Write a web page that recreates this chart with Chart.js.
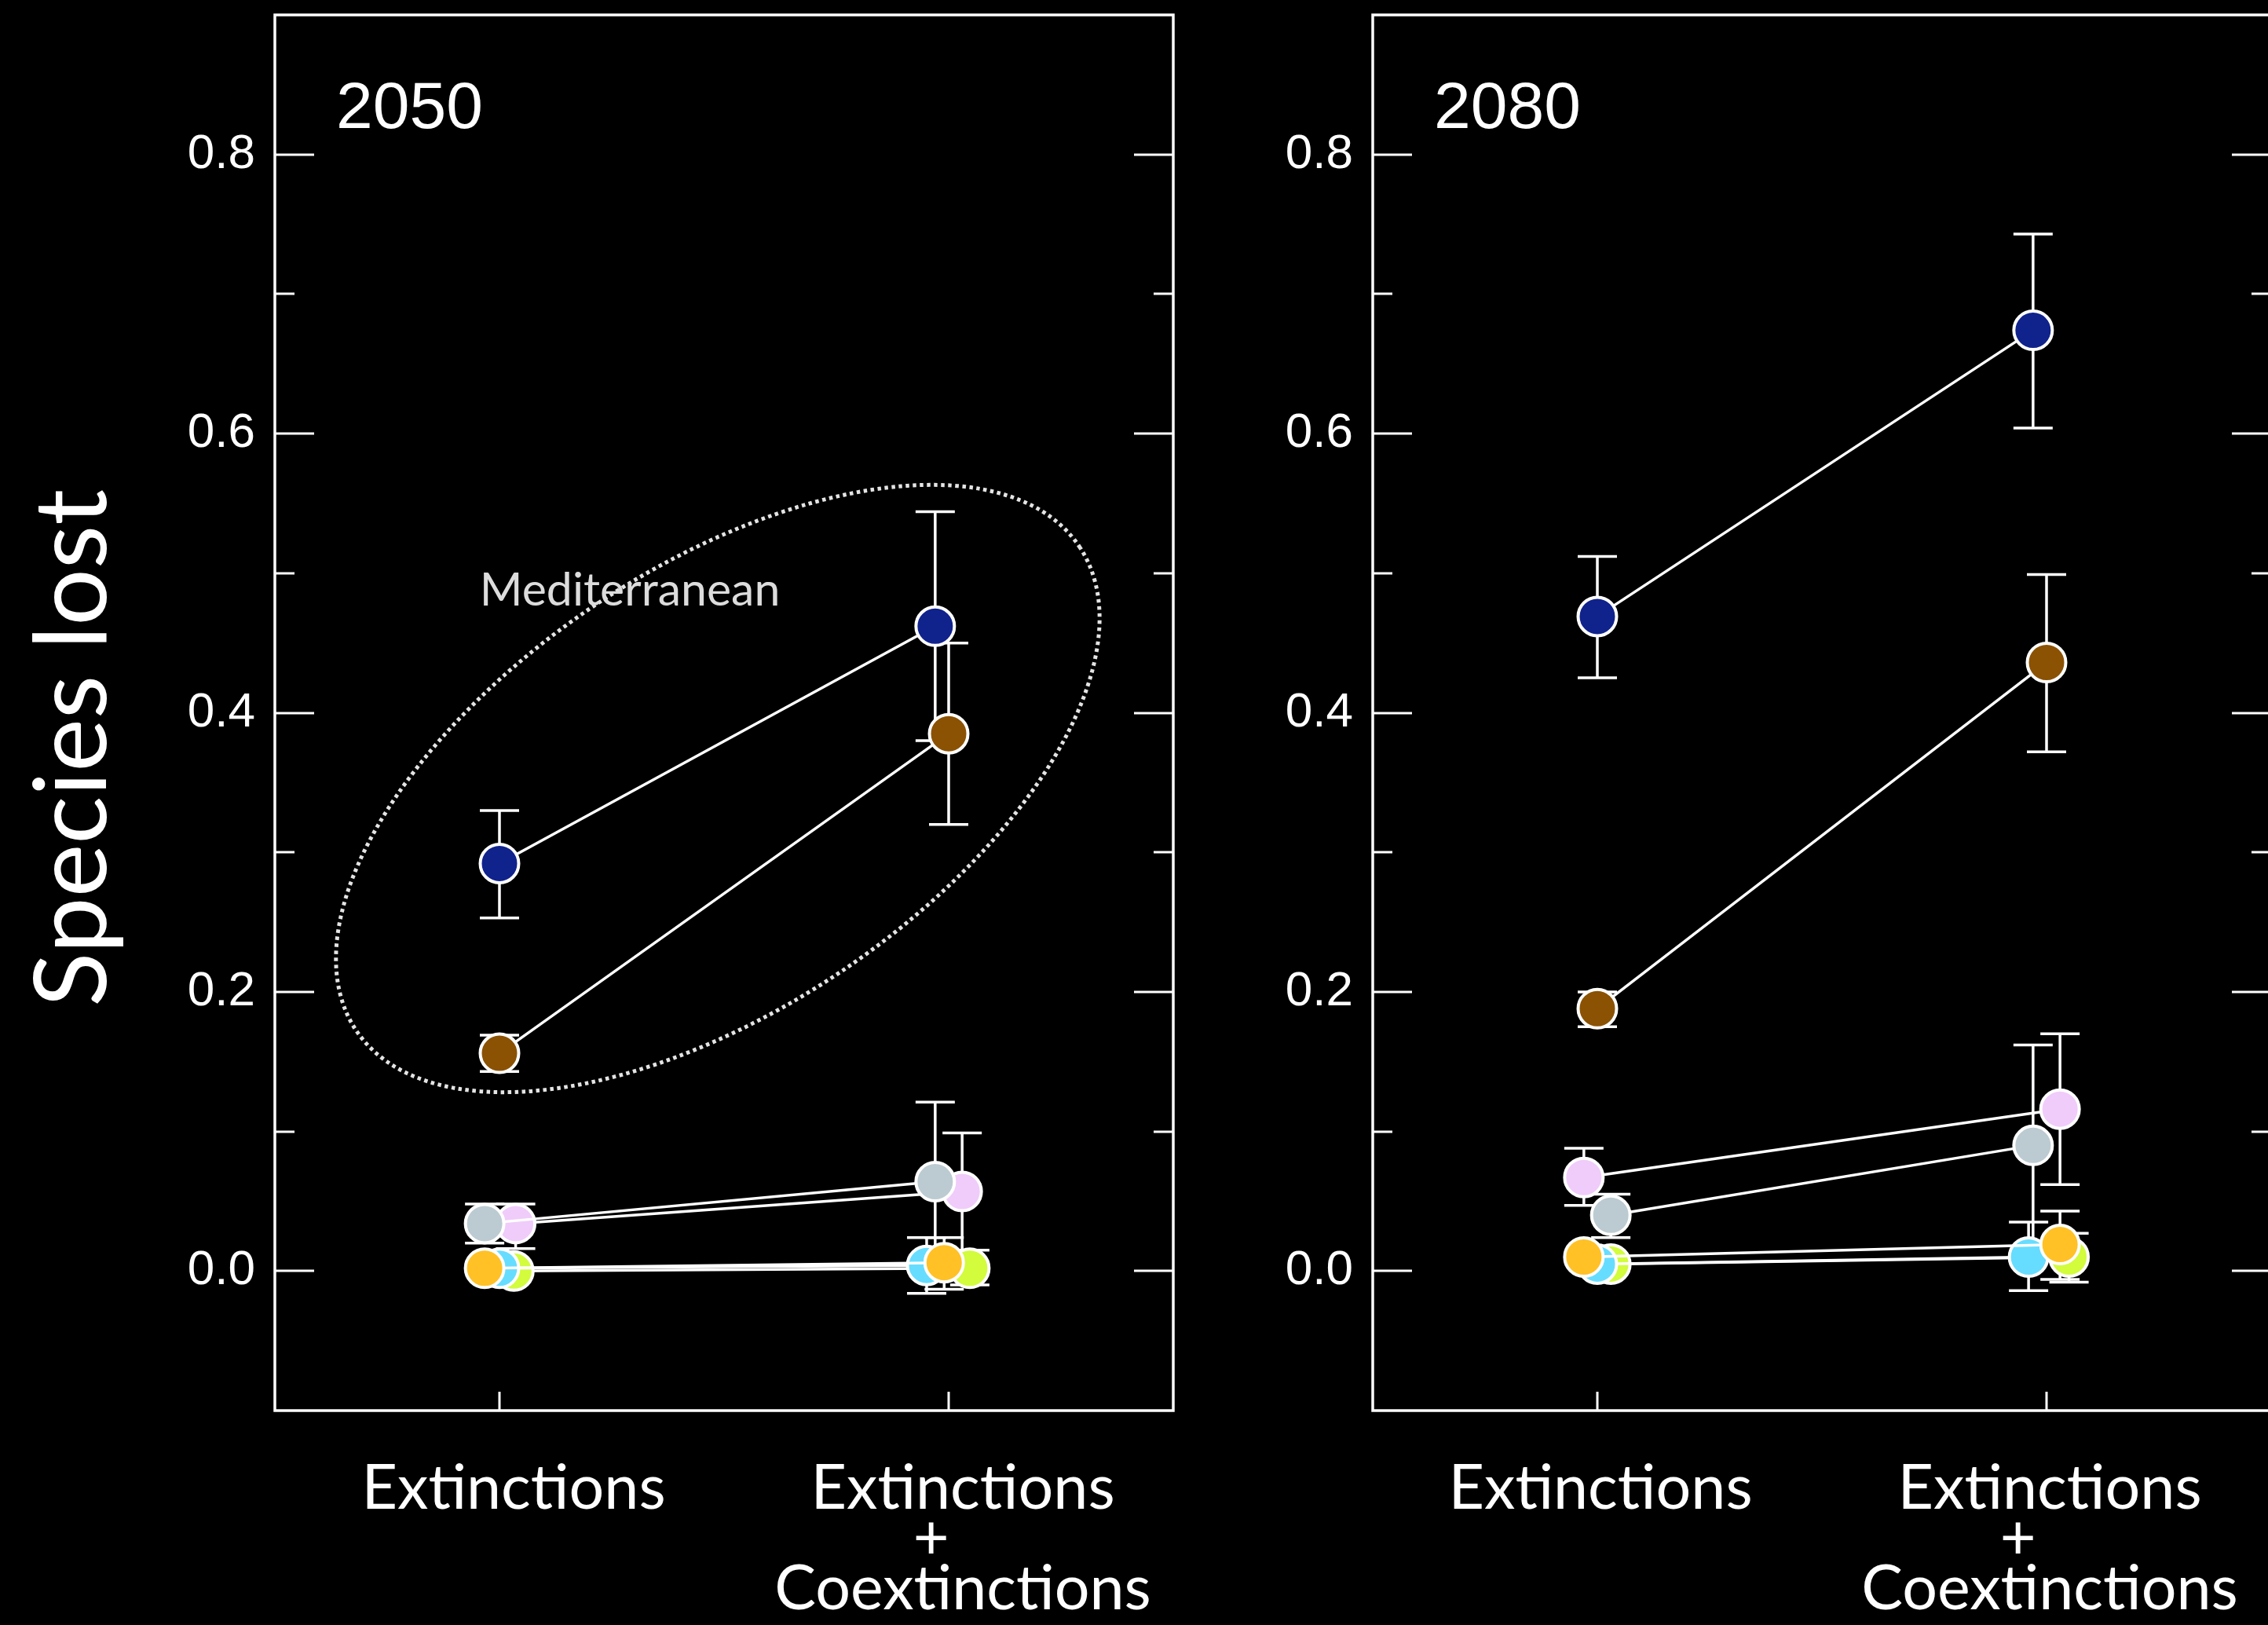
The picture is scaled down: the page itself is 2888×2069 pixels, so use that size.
<!DOCTYPE html>
<html>
<head>
<meta charset="utf-8">
<title>Species lost 2050 / 2080</title>
<script src="https://cdn.jsdelivr.net/npm/chart.js@4.4.1/dist/chart.umd.min.js"></script>
<style>
  html, body { margin: 0; padding: 0; background: #000; overflow: hidden; width: 2888px; height: 2069px; }
  canvas { position: absolute; top: 0; }
  #c2050 { left: 0; }
  #c2080 { left: 1520px; }
</style>
</head>
<body>
<canvas id="c2050" width="1520" height="2069"></canvas>
<canvas id="c2080" width="1372" height="2069"></canvas>
<script>
// ---- categories and axis ticks ----
const categories = [['Extinctions'], ['Extinctions', '+', 'Coextinctions']];
const categoryPositions = [1, 2];
const yTickStops = [0, 0.1, 0.2, 0.3, 0.4, 0.5, 0.6, 0.7, 0.8];
const yTickLabels = ['0.0', '', '0.2', '', '0.4', '', '0.6', '', '0.8'];

// ---- series (same order in every array below) ----
const seriesNames = ['navy', 'brown', 'silver', 'lilac', 'amber', 'sky', 'lime'];
const seriesColors = ['#10228c', '#8b5204', '#bccbd1', '#f0ccfa', '#ffc125', '#66ddff', '#d2fc3c'];
const seriesLayer = [6, 5, 3, 4, 0, 1, 2];

// ---- 2050: proportion of species lost ----
const ext2050       = [0.292, 0.156, 0.034, 0.034, 0.002, 0.002, 0.000];
const extLow2050    = [0.253, 0.143, 0.020, 0.016, 0.000, 0.000, -0.002];
const extHigh2050   = [0.330, 0.169, 0.048, 0.048, 0.004, 0.004, 0.002];
const coext2050     = [0.462, 0.385, 0.064, 0.057, 0.006, 0.004, 0.002];
const coextLow2050  = [0.380, 0.320, 0.007, 0.014, -0.013, -0.016, -0.010];
const coextHigh2050 = [0.544, 0.450, 0.121, 0.099, 0.024, 0.024, 0.015];
const jitterExt2050   = [0, 0, -0.033, 0.036, -0.033, 0, 0.032];
const jitterCoext2050 = [-0.03, 0, -0.03, 0.03, -0.01, -0.049, 0.047];

// ---- 2080: proportion of species lost ----
const ext2080       = [0.469, 0.188, 0.040, 0.067, 0.010, 0.005, 0.005];
const extLow2080    = [0.425, 0.175, 0.024, 0.047, 0.006, 0.002, 0.002];
const extHigh2080   = [0.512, 0.200, 0.055, 0.088, 0.014, 0.008, 0.008];
const coext2080     = [0.674, 0.436, 0.090, 0.116, 0.019, 0.010, 0.010];
const coextLow2080  = [0.604, 0.372, 0.018, 0.062, -0.006, -0.014, -0.008];
const coextHigh2080 = [0.743, 0.499, 0.162, 0.170, 0.043, 0.035, 0.027];
const jitterExt2080   = [0, 0, 0.03, -0.03, -0.03, 0, 0.03];
const jitterCoext2080 = [-0.03, 0, -0.03, 0.03, 0.03, -0.04, 0.05];

function buildDatasets(ext, extLow, extHigh, coext, coextLow, coextHigh, jExt, jCoext) {
  return seriesNames.map((name, i) => ({
    label: name,
    data: [
      { x: categoryPositions[0] + jExt[i], y: ext[i] },
      { x: categoryPositions[1] + jCoext[i], y: coext[i] }
    ],
    errLow: [extLow[i], coextLow[i]],
    errHigh: [extHigh[i], coextHigh[i]],
    order: seriesLayer[i],
    showLine: true,
    borderColor: '#ffffff',
    borderWidth: 3.5,
    pointRadius: 24.5,
    pointHoverRadius: 24.5,
    pointBackgroundColor: seriesColors[i],
    pointBorderColor: '#ffffff',
    pointBorderWidth: 4
  }));
}

// Frame, inward ticks, error bars and panel annotations
const panelDecor = {
  id: 'panelDecor',
  beforeDatasetsDraw(chart, args, opts) {
    const ctx = chart.ctx, xs = chart.scales.x, ys = chart.scales.y;
    ctx.save();
    if (opts.ellipse) {
      const e = opts.ellipse;
      ctx.beginPath();
      ctx.ellipse(xs.getPixelForValue(e.cx), ys.getPixelForValue(e.cy), e.rx, e.ry, e.angle * Math.PI / 180, 0, Math.PI * 2);
      ctx.setLineDash([4.5, 4.5]);
      ctx.lineWidth = 5;
      ctx.strokeStyle = '#e4e4e4';
      ctx.stroke();
      ctx.setLineDash([]);
    }
    // error bars
    ctx.strokeStyle = '#ffffff';
    ctx.lineWidth = 3.5;
    chart.data.datasets.forEach((ds, i) => {
      const meta = chart.getDatasetMeta(i);
      meta.data.forEach((pt, j) => {
        const yl = ys.getPixelForValue(ds.errLow[j]);
        const yh = ys.getPixelForValue(ds.errHigh[j]);
        const x = pt.x, cap = 25;
        ctx.beginPath();
        ctx.moveTo(x, yl); ctx.lineTo(x, yh);
        ctx.moveTo(x - cap, yl); ctx.lineTo(x + cap, yl);
        ctx.moveTo(x - cap, yh); ctx.lineTo(x + cap, yh);
        ctx.stroke();
      });
    });
    ctx.restore();
  },
  afterDraw(chart, args, opts) {
    const ctx = chart.ctx, a = chart.chartArea, xs = chart.scales.x, ys = chart.scales.y;
    ctx.save();
    ctx.strokeStyle = '#ffffff';
    ctx.lineWidth = 3.5;
    ctx.strokeRect(a.left, a.top, a.right - a.left, a.bottom - a.top);
    ctx.beginPath();
    yTickStops.forEach((v, i) => {
      const py = Math.round(ys.getPixelForValue(v));
      const len = yTickLabels[i] ? 50 : 25;
      ctx.moveTo(a.left, py); ctx.lineTo(a.left + len, py);
      ctx.moveTo(a.right, py); ctx.lineTo(a.right - len, py);
    });
    categoryPositions.forEach(v => {
      const px = Math.round(xs.getPixelForValue(v));
      ctx.moveTo(px, a.bottom); ctx.lineTo(px, a.bottom - 24);
    });
    ctx.lineWidth = 3;
    ctx.stroke();

    // panel year
    ctx.fillStyle = '#ffffff';
    ctx.font = '84px "Liberation Sans", Arial, sans-serif';
    ctx.textAlign = 'left';
    ctx.textBaseline = 'alphabetic';
    ctx.fillText(opts.year, a.left + 78, 163);

    if (opts.note) {
      ctx.fillStyle = '#dcdcdc';
      ctx.font = '59px Lato, sans-serif';
      ctx.fillText(opts.note.text, xs.getPixelForValue(opts.note.x), ys.getPixelForValue(opts.note.y));
    }

    if (opts.yTitle) {
      ctx.translate(a.left - 215, (a.top + a.bottom) / 2 + 45);
      ctx.rotate(-Math.PI / 2);
      ctx.fillStyle = '#ffffff';
      ctx.font = '128px Lato, sans-serif';
      ctx.textAlign = 'center';
      ctx.fillText(opts.yTitle, 0, 0);
    }
    ctx.restore();
  }
};

function zeroPadding(s) {
  s.paddingLeft = 0; s.paddingRight = 0; s.paddingTop = 0; s.paddingBottom = 0;
}

function makePanel(canvasId, datasets, cfg) {
  return new Chart(document.getElementById(canvasId), {
    type: 'line',
    data: { datasets },
    plugins: [panelDecor],
    options: {
      responsive: false,
      animation: false,
      events: [],
      layout: { autoPadding: false, padding: { top: 19, right: cfg.rightPad, bottom: 0, left: 0 } },
      plugins: {
        legend: { display: false },
        tooltip: { enabled: false },
        panelDecor: { year: cfg.year, ellipse: cfg.ellipse, note: cfg.note, yTitle: cfg.yTitle }
      },
      scales: {
        x: {
          type: 'linear', min: 0.5, max: 2.5,
          afterBuildTicks: s => { s.ticks = categoryPositions.map(v => ({ value: v })); },
          afterFit: s => { s.height = 273; zeroPadding(s); },
          grid: { display: false, drawTicks: false },
          border: { display: false },
          ticks: {
            color: '#ffffff', autoSkip: false, maxRotation: 0, minRotation: 0,
            padding: 68, labelOffset: cfg.labelOffset,
            font: { family: 'Lato', size: 79, lineHeight: 0.81 },
            callback: v => {
              const lines = categories[categoryPositions.indexOf(Math.round(v))];
              if (lines.length === 1) return lines[0];
              return lines.map(t => t === '+' ? '+\u00a0\u00a0\u00a0\u00a0' : t);
            }
          }
        },
        y: {
          min: -0.1, max: 0.9,
          afterBuildTicks: s => { s.ticks = yTickStops.map(v => ({ value: v })); },
          afterFit: s => { s.width = cfg.yWidth; zeroPadding(s); },
          grid: { display: false, drawTicks: false },
          border: { display: false },
          ticks: {
            color: '#ffffff', autoSkip: false, padding: 25,
            font: { family: '"Liberation Sans"', size: 62 },
            callback: (v, i) => yTickLabels[i]
          }
        }
      }
    }
  });
}

makePanel('c2050',
  buildDatasets(ext2050, extLow2050, extHigh2050, coext2050, coextLow2050, coextHigh2050, jitterExt2050, jitterCoext2050),
  {
    year: '2050', yWidth: 350, rightPad: 26, labelOffset: 18,
    yTitle: 'Species lost',
    ellipse: { cx: 1.486, cy: 0.3457, rx: 554, ry: 281, angle: -33.8 },
    note: { text: 'Mediterranean', x: 0.956, y: 0.477 }
  });

makePanel('c2080',
  buildDatasets(ext2080, extLow2080, extHigh2080, coext2080, coextLow2080, coextHigh2080, jitterExt2080, jitterCoext2080),
  { year: '2080', yWidth: 228, rightPad: 0, labelOffset: 4 });
</script>
</body>
</html>
